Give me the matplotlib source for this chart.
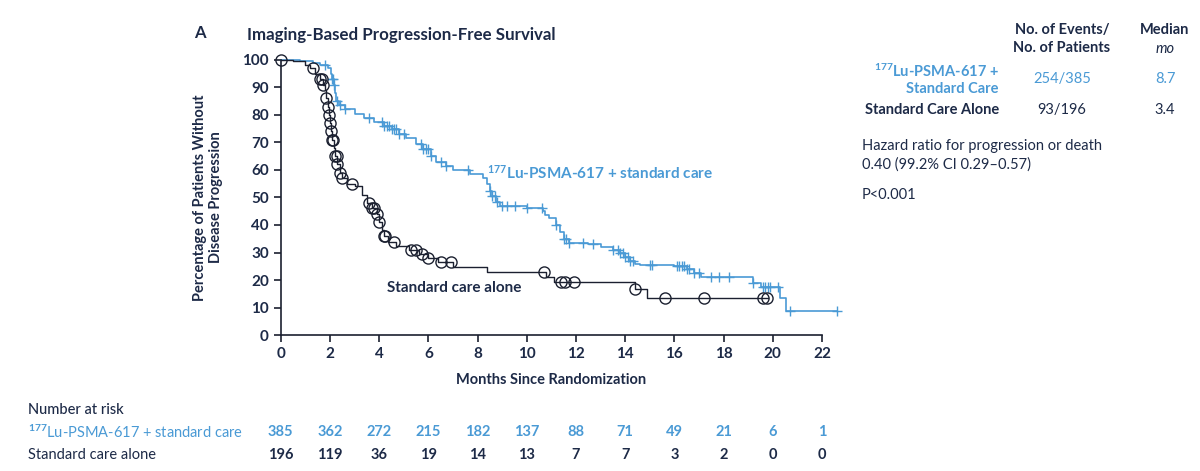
"""
Kaplan-Meier style chart: imaging-based progression-free survival.
"""

import numpy as np
import matplotlib
matplotlib.use("Agg")
import matplotlib.pyplot as plt
import matplotlib.transforms as mtransforms

BLUE = "#4a9ad5"
NAVY = "#1d2a47"
DARK = "#1b2030"

# step curves (month, percent)
lu_times = [0, 0.8, 1.3, 1.6, 1.9, 2.05, 2.1, 2.15, 2.2, 2.25, 2.35, 2.6, 3.0, 3.4,
            3.8, 4.2, 4.5, 4.8, 5.1, 5.5, 5.8, 6.1, 6.3, 6.7, 7.0, 7.7, 8.2, 8.4,
            8.5, 8.6, 8.75, 8.9, 10.0, 10.65, 10.75, 10.9, 11.2, 11.35, 11.5, 11.7,
            12.5, 13.0, 13.5, 13.8, 14.0, 14.2, 14.4, 14.6, 16.0, 16.5, 16.8, 17.1,
            19.2, 19.5, 20.3, 20.55]
lu_surv = [100, 99.5, 99, 98, 97, 95, 93, 91, 88, 85, 83.5, 82, 80.5, 79,
           77.5, 76, 75, 73, 71.5, 69.5, 67.5, 65, 63, 61.5, 60, 58.5, 57, 55,
           52.5, 50.5, 48.5, 47, 46, 45, 43.5, 42.5, 40, 37.5, 35, 33.5,
           33, 32, 31, 30, 28.5, 27, 26, 25.5, 25, 24, 22.5, 21,
           19, 17.5, 13.4, 8.7]
lu_end = 22.6
lu_censored = [1.8, 2.1, 2.13, 2.18, 2.3, 2.4, 2.6, 3.6, 4.1, 4.2, 4.3, 4.4, 4.5,
               4.6, 4.7, 4.8, 5.0, 5.7, 5.8, 5.9, 6.0, 6.1, 6.5, 6.7, 7.6, 8.5,
               8.6, 8.7, 8.8, 9.0, 9.2, 9.5, 10.0, 10.6, 11.2, 11.5, 11.6, 11.7,
               12.3, 12.7, 13.5, 13.7, 13.8, 13.9, 14.0, 14.1, 14.2, 14.3, 15.0,
               15.1, 16.1, 16.2, 16.3, 16.4, 16.5, 16.6, 16.8, 17.0, 17.5, 17.8,
               18.2, 19.2, 19.6, 19.7, 19.8, 19.9, 20.2, 20.7, 22.6]

soc_times = [0, 0.5, 1.0, 1.2, 1.4, 1.6, 1.7, 1.8, 1.85, 1.9, 1.95, 2.0, 2.05,
             2.1, 2.15, 2.2, 2.3, 2.4, 2.5, 2.7, 3.0, 3.3, 3.5, 3.7, 3.9, 4.0,
             4.1, 4.2, 4.35, 4.7, 5.2, 5.6, 6.0, 6.4, 7.0, 8.4, 10.8, 11.1,
             14.4, 14.9]
soc_surv = [100, 99.5, 98, 97, 95, 93, 91, 89, 86, 83, 80, 77, 74,
            71, 68, 65, 62, 59, 57, 55, 54, 51, 48, 46, 44, 41,
            38, 36, 34, 32.5, 31, 29.5, 28, 26.5, 24.7, 23, 21, 19.3,
            16.7, 13.4]
soc_end = 19.8
soc_censored = [0, 1.3, 1.6, 1.68, 1.72, 1.85, 1.9, 1.95, 2.0, 2.05, 2.1, 2.12,
                2.2, 2.27, 2.3, 2.4, 2.5, 2.9, 3.6, 3.7, 3.8, 3.9, 4.0, 4.2,
                4.25, 4.6, 5.3, 5.5, 5.75, 6.0, 6.5, 6.9, 10.7, 11.4, 11.55,
                11.9, 14.4, 15.6, 17.2, 19.6, 19.75]

risk_months = [0, 2, 4, 6, 8, 10, 12, 14, 16, 18, 20, 22]
risk_lu = [385, 362, 272, 215, 182, 137, 88, 71, 49, 21, 6, 1]
risk_soc = [196, 119, 36, 19, 14, 13, 7, 7, 3, 2, 0, 0]

plt.rcParams["font.family"] = ["Lato", "DejaVu Sans"]
plt.rcParams["mathtext.fontset"] = "custom"
plt.rcParams["mathtext.rm"] = "Lato:bold"
plt.rcParams["mathtext.bf"] = "Lato:bold"
plt.rcParams["mathtext.it"] = "Lato:italic"


def level_at(times, surv, t):
    idx = np.searchsorted(times, t, side="right") - 1
    return np.asarray(surv)[idx]


fig = plt.figure(figsize=(12, 4.71), dpi=100)
ax = fig.add_axes([0.234, 0.2887, 0.451, 0.584])

ax.step(lu_times + [lu_end], lu_surv + [lu_surv[-1]], where="post",
        color=BLUE, lw=1.2, clip_on=False)
ax.step(soc_times + [soc_end], soc_surv + [soc_surv[-1]], where="post",
        color=DARK, lw=1.0, clip_on=False)

ax.plot(lu_censored, level_at(lu_times, lu_surv, lu_censored), "+",
        color=BLUE, ms=7, mew=1.0, clip_on=False)
ax.plot(soc_censored, level_at(soc_times, soc_surv, soc_censored), "o",
        mfc="none", mec=DARK, ms=8, mew=1.0, clip_on=False)

ax.set_xlim(0, 22)
ax.set_ylim(0, 100)
ax.set_xticks(range(0, 23, 2))
ax.set_yticks(range(0, 101, 10))
ax.spines["top"].set_visible(False)
ax.spines["right"].set_visible(False)
for side in ["left", "bottom"]:
    ax.spines[side].set_color(DARK)
    ax.spines[side].set_linewidth(1.2)
ax.tick_params(direction="out", length=5, width=1.2, color=DARK,
               labelsize=11, labelcolor=NAVY)
for lab in ax.get_xticklabels() + ax.get_yticklabels():
    lab.set_fontweight("bold")

ax.set_xlabel("Months Since Randomization", fontsize=10.5, fontweight="bold",
              color=NAVY, labelpad=9)
ax.set_ylabel("Percentage of Patients Without\nDisease Progression",
              fontsize=10.5, fontweight="bold", color=NAVY, labelpad=14)

ax.text(8.4, 59, r"$^{177}$Lu-PSMA-617 + standard care", color=BLUE,
        fontsize=11, fontweight="bold", va="center")
ax.text(4.3, 17, "Standard care alone", color=NAVY, fontsize=11,
        fontweight="bold", va="center")

fig.text(200 / 1200, 1 - 33 / 471, "A", fontsize=12, fontweight="bold",
         color=NAVY, ha="center", va="center")
fig.text(247 / 1200, 1 - 35 / 471, "Imaging-Based Progression-Free Survival",
         fontsize=12.2, fontweight="bold", color=NAVY, va="center")

# summary table on the right
def fx(px):
    return px / 1200


def fy(py):
    return 1 - py / 471


fig.text(fx(1062), fy(39), "No. of Events/\nNo. of Patients", ha="center",
         va="center", fontsize=10.5, fontweight="bold", color=NAVY,
         linespacing=1.3)
fig.text(fx(1165), fy(30), "Median", ha="center", va="center",
         fontsize=10.5, fontweight="bold", color=NAVY)
fig.text(fx(1165), fy(49), "mo", ha="center", va="center",
         fontsize=10.5, style="italic", color=NAVY)
fig.text(fx(999), fy(79), r"$^{177}$Lu-PSMA-617 +" + "\nStandard Care",
         ha="right", va="center", fontsize=10.5, fontweight="bold",
         color=BLUE, linespacing=1.2)
fig.text(fx(1062), fy(79), "254/385", ha="center", va="center",
         fontsize=10.5, color=BLUE)
fig.text(fx(1165), fy(79), "8.7", ha="center", va="center",
         fontsize=10.5, color=BLUE)
fig.text(fx(999), fy(110), "Standard Care Alone", ha="right", va="center",
         fontsize=10.5, fontweight="bold", color=NAVY)
fig.text(fx(1062), fy(110), "93/196", ha="center", va="center",
         fontsize=10.5, color=NAVY)
fig.text(fx(1165), fy(110), "3.4", ha="center", va="center",
         fontsize=10.5, color=NAVY)
fig.text(fx(862), fy(155), "Hazard ratio for progression or death\n"
         "0.40 (99.2% CI 0.29\u20130.57)", ha="left", va="center",
         fontsize=10.5, color=NAVY, linespacing=1.4)
fig.text(fx(862), fy(195), "P<0.001", ha="left", va="center",
         fontsize=10.5, color=NAVY)

# number at risk
trans = mtransforms.blended_transform_factory(ax.transData, fig.transFigure)
fig.text(fx(28), fy(410), "Number at risk", fontsize=10.5, color=NAVY,
         va="center", fontweight="medium")
fig.text(fx(28), fy(432), r"$^{177}$Lu-PSMA-617 + standard care",
         fontsize=10.5, color=BLUE, va="center")
fig.text(fx(28), fy(455), "Standard care alone", fontsize=10.5,
         color=NAVY, va="center")
for m, a, b in zip(risk_months, risk_lu, risk_soc):
    ax.text(m, fy(432), str(a), transform=trans, ha="center", va="center",
            fontsize=10.5, fontweight="bold", color=BLUE, clip_on=False)
    ax.text(m, fy(455), str(b), transform=trans, ha="center", va="center",
            fontsize=10.5, fontweight="bold", color=NAVY, clip_on=False)

fig.savefig("out.png", dpi=100)
plt.close(fig)
